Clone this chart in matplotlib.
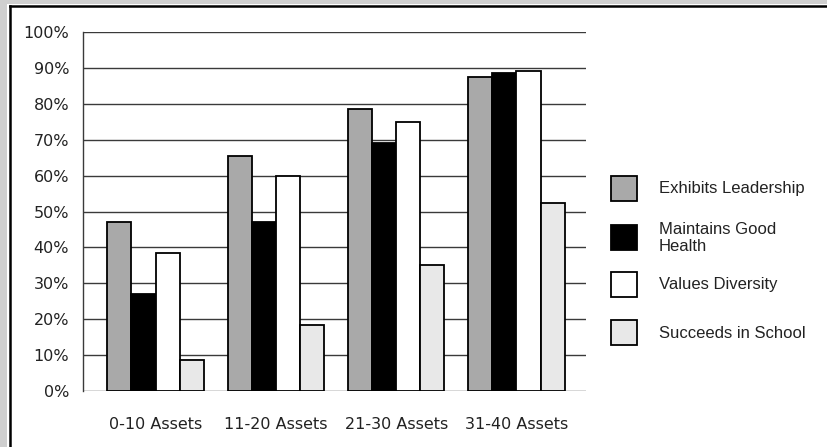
import numpy as np
import matplotlib.pyplot as plt
from matplotlib.patches import Rectangle
from matplotlib.lines import Line2D

groups = ["0-10 Assets", "11-20 Assets", "21-30 Assets", "31-40 Assets"]
series = ["Exhibits Leadership", "Maintains Good\nHealth", "Values Diversity", "Succeeds in School"]
leadership = [47.0, 65.5, 78.5, 87.5]
health = [27.0, 47.0, 69.0, 88.5]
diversity = [38.5, 60.0, 75.0, 89.0]
school = [8.5, 18.5, 35.0, 52.5]
yticks = [0, 10, 20, 30, 40, 50, 60, 70, 80, 90, 100]

colors = ["#a9a9a9", "#000000", "#ffffff", "#e8e8e8"]
W, H = 828, 447


def fx(x):
    return x / W


def fy(y):
    return 1 - y / H


fig = plt.figure(figsize=(W / 100, H / 100), dpi=100)
fig.patch.set_facecolor("white")

# page border: grey margin and black rule along top and left
fig.add_artist(Rectangle((0, 0), fx(7), 1, transform=fig.transFigure,
                         facecolor="#cfcfcf", edgecolor="none"))
fig.add_artist(Rectangle((0, fy(4)), 1, 1 - fy(4), transform=fig.transFigure,
                         facecolor="#cfcfcf", edgecolor="none"))
fig.add_artist(Line2D([fx(9.5), fx(9.5)], [0, fy(5.5)], transform=fig.transFigure,
                      color="black", lw=1.8))
fig.add_artist(Line2D([fx(9.5), 1], [fy(5.5), fy(5.5)], transform=fig.transFigure,
                      color="black", lw=1.8))

ax = fig.add_axes([fx(83), fy(391), fx(586) - fx(83), fy(32) - fy(391)])

x = np.arange(len(groups))
w = 0.2
data = [leadership, health, diversity, school]
for i, vals in enumerate(data):
    ax.bar(x + (i - 1.5) * w, vals, width=w, color=colors[i],
           edgecolor="black", linewidth=1.3, zorder=3)

ax.set_xlim(-0.603, 3.578)
ax.set_ylim(0, 100)
ax.set_yticks(yticks)
ax.set_yticklabels([f"{t}%" for t in yticks])
ax.set_xticks(x)
ax.set_xticklabels(groups)
ax.yaxis.grid(True, color="#3a3a3a", lw=1.0, zorder=1)
ax.set_axisbelow(True)
ax.tick_params(axis="y", length=0, pad=10, labelsize=11.5, labelcolor="#222222")
ax.tick_params(axis="x", length=0, pad=19, labelsize=11.5, labelcolor="#222222")
for s in ["top", "right", "bottom"]:
    ax.spines[s].set_visible(False)
ax.spines["left"].set_color("#3a3a3a")
ax.spines["left"].set_linewidth(1.0)

# legend drawn as boxes and labels on the right
legend_y = [188, 237, 284, 332]
for name, c, ly in zip(series, colors, legend_y):
    fig.add_artist(Rectangle((fx(611), fy(ly + 12.5)), fx(26), fy(0) - fy(25),
                             transform=fig.transFigure, facecolor=c,
                             edgecolor="black", linewidth=1.3))
    fig.text(fx(659), fy(ly + 1), name, fontsize=12, family="Liberation Sans",
             color="#222222", va="center", ha="left", linespacing=1.1)

fig.savefig("out.png", dpi=100)
